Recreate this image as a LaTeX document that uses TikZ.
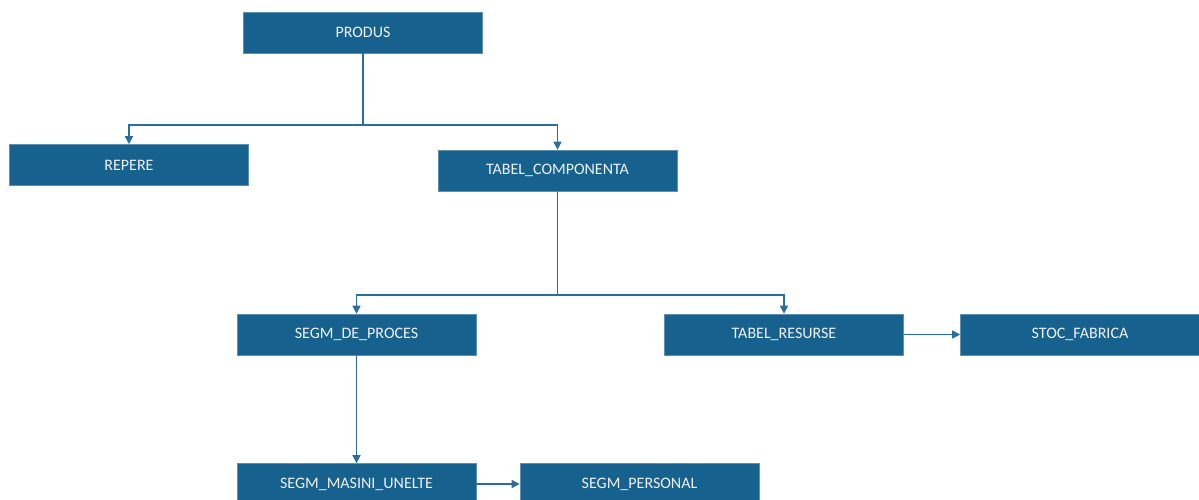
\documentclass[tikz,border=0pt]{standalone}
\usepackage{fontspec}
\setmainfont{Carlito}
\usetikzlibrary{arrows.meta}
\definecolor{boxblue}{HTML}{17618F}
\definecolor{lineblue}{HTML}{2A6E9E}
\definecolor{txt}{HTML}{EEF2F6}
\tikzset{
  box/.style={draw=boxblue!70!white, line width=0.6pt, fill=boxblue, minimum width=239pt, minimum height=41pt, inner sep=0pt,
    text=txt, font=\fontsize{16pt}{19pt}\selectfont},
  conn/.style={draw=lineblue, line width=1.5pt, -{Triangle[length=8pt,width=8pt]}},
  plain/.style={draw=lineblue, line width=1.5pt}
}
\begin{document}
\begin{tikzpicture}[x=1pt,y=-1pt]
\useasboundingbox (0,0) rectangle (1199,500);
\clip (0,0) rectangle (1199,500);
\node[box] (produs) at (363,32.5) {PRODUS};
\node[box] (repere) at (129,165) {REPERE};
\node[box] (tabc) at (557.5,170.5) {TABEL\_COMPONENTA};
\node[box] (segp) at (356.5,334.5) {SEGM\_DE\_PROCES};
\node[box] (tabr) at (784,334.5) {TABEL\_RESURSE};
\node[box] (stoc) at (1080,334.5) {STOC\_FABRICA};
\node[box] (segm) at (356.5,484) {SEGM\_MASINI\_UNELTE};
\node[box] (segpers) at (639.5,484) {SEGM\_PERSONAL};
\coordinate (j1) at (363,125);
\coordinate (j2) at (557.5,295);
\draw[plain] (produs.south) -- (j1);
\draw[conn] (j1) -| (repere.north);
\draw[conn] (j1) -| (tabc.north);
\draw[plain] (tabc.south) -- (j2);
\draw[conn] (j2) -| (segp.north);
\draw[conn] (j2) -| (tabr.north);
\draw[conn] (segp.south) -- (segm.north);
\draw[conn] (tabr.east) -- (stoc.west);
\draw[conn] (segm.east) -- (segpers.west);
\end{tikzpicture}
\end{document}
